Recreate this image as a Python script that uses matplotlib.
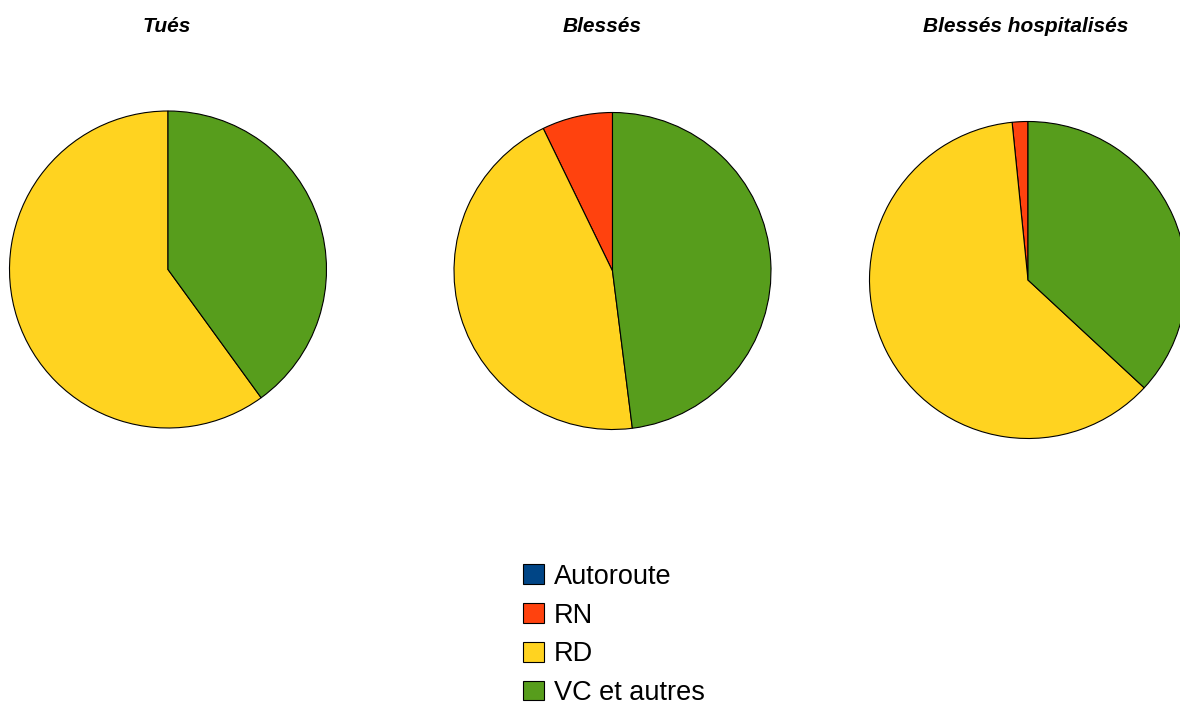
import matplotlib
matplotlib.use('Agg')
import matplotlib.pyplot as plt
from matplotlib.patches import Patch

plt.rcParams['font.family'] = ['Liberation Sans', 'DejaVu Sans']

categories = ['Autoroute', 'RN', 'RD', 'VC et autres']
colors = ['#004586', '#ff420e', '#ffd320', '#579d1c']

titles = ['Tués', 'Blessés', 'Blessés hospitalisés']
tues = [0.0, 0.0, 60.0, 40.0]
blesses = [0.0, 7.2, 44.8, 48.0]
hospitalises = [0.0, 1.6, 61.5, 36.9]
series = [tues, blesses, hospitalises]

W, H = 1180, 709
fig = plt.figure(figsize=(W / 100, H / 100), dpi=100)

# pie centres / radius in pixels (top-left origin)
centres = [(168, 269.5), (612.5, 271), (1028, 280)]
radius = 158.5
title_x = [167, 602, 1026]

for vals, (cx, cy), title, tx in zip(series, centres, titles, title_x):
    ax = fig.add_axes([(cx - radius) / W, 1 - (cy + radius) / H,
                       2 * radius / W, 2 * radius / H])
    wedges, _ = ax.pie(vals, colors=colors, startangle=90, counterclock=True,
                       radius=1.0,
                       wedgeprops=dict(edgecolor='black', linewidth=0.8))
    for w in wedges:
        w.set_clip_on(False)
    ax.set_xlim(-1, 1)
    ax.set_ylim(-1, 1)
    ax.set_aspect('equal')
    ax.axis('off')
    fig.text(tx / W, 1 - 26 / H, title, ha='center', va='center',
             fontsize=15, fontweight='bold', fontstyle='italic')

handles = [Patch(facecolor=c, edgecolor='black', linewidth=0.8) for c in colors]
fig.legend(handles, categories, loc='upper left',
           bbox_to_anchor=(512 / W, 1 - 553 / H), frameon=False,
           fontsize=19.5, handlelength=0.78, handleheight=0.75,
           handletextpad=0.38, labelspacing=0.47, borderaxespad=0)

fig.savefig('out.png', dpi=100)
plt.close(fig)
